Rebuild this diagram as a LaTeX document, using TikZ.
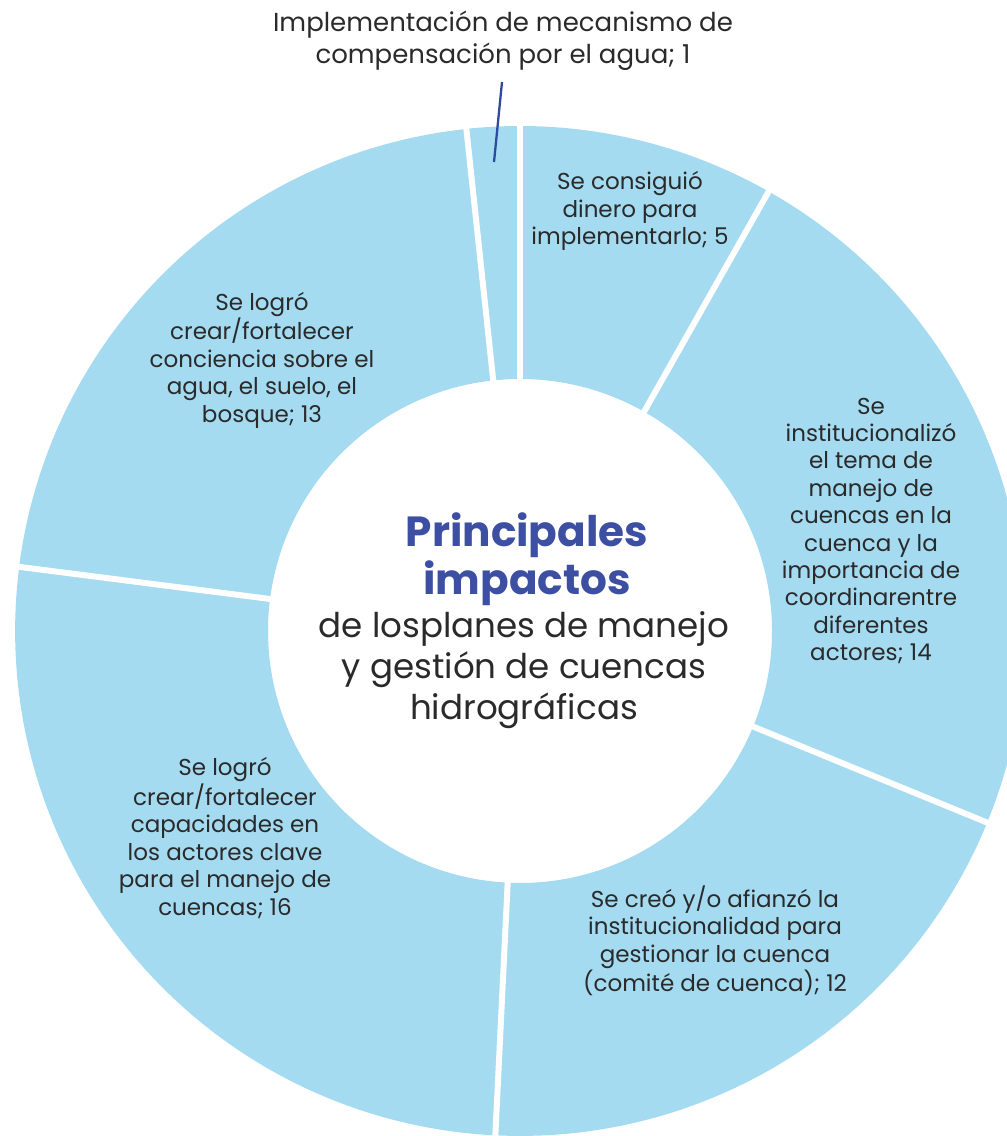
\documentclass[tikz,border=0pt]{standalone}
\usepackage{fontspec}
\setmainfont{Poppins}
\definecolor{slice}{HTML}{A4DBF1}
\definecolor{titleblue}{HTML}{3C4FA2}
\definecolor{txt}{HTML}{2A2A2A}
\definecolor{leader}{HTML}{2E4A9E}
\begin{document}
\begin{tikzpicture}[x=0.02cm, y=0.02cm,
  lbl/.style={align=center, text=txt, inner sep=0pt, font=\fontsize{13.1}{15.6}\selectfont},
  gap/.style={draw=white, line width=3.4pt},
  sector/.style={fill=slice}]
\useasboundingbox (0,0) rectangle (1007,1136);
\clip (0,0) rectangle (1007,1136);
\coordinate (C) at (520,505);
\def\Ro{505}\def\Ri{252}
% sectors
\foreach \a/\b in {90/60.5, 60.5/-22.3, -22.3/-92.8, -92.8/-187.3, -187.3/-263.9, -263.9/-270}{
  \fill[sector, shift={(C)}] (\a:\Ro) arc[start angle=\a, end angle=\b, radius=10.1cm]
     -- (\b:\Ri) arc[start angle=\b, end angle=\a, radius=5.04cm] -- cycle;
}
% gaps
\foreach \a in {90, 60.5, -22.3, -92.8, -187.3, -263.9}{
  \draw[gap, shift={(C)}] (\a:246) -- (\a:520);
}
% labels
\node[lbl, font=\fontsize{14.8}{18.2}\selectfont] (t1) at (503,1095) {Implementación de mecanismo de\\compensación por el agua; 1};
\coordinate (l1) at (502,1054);
\coordinate (l2) at (494,974);
\draw[leader, line width=1.3pt] (l1) -- (l2);
\node[lbl] (t5) at (630,925) {Se consiguió\\dinero para\\implementarlo; 5};
\node[lbl] (t14) at (871,605) {Se\\institucionalizó\\el tema de\\manejo de\\cuencas en la\\cuenca y la\\importancia de\\coordinarentre\\diferentes\\actores; 14};
\node[lbl] (t12) at (715,195) {Se creó y/o afianzó la\\institucionalidad para\\gestionar la cuenca\\(comité de cuenca); 12};
\node[lbl] (t16) at (225,298) {Se logró\\crear/fortalecer\\capacidades en\\los actores clave\\para el manejo de\\cuencas; 16};
\node[lbl] (t13) at (262,776) {Se logró\\crear/fortalecer\\conciencia sobre el\\agua, el suelo, el\\bosque; 13};
% center
\node[align=center, inner sep=0pt, text=titleblue, font=\fontsize{24}{27.3}\selectfont\bfseries] (title) at (527,577) {Principales\\impactos};
\node[align=center, inner sep=0pt, text=txt, font=\fontsize{19.4}{23.3}\selectfont] (sub) at (524,466) {de losplanes de manejo\\ y gestión de cuencas\\hidrográficas};
\end{tikzpicture}
\end{document}
